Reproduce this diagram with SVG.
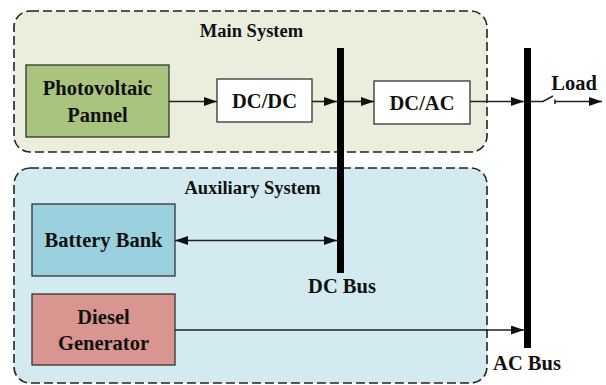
<svg xmlns="http://www.w3.org/2000/svg" width="606" height="385" viewBox="0 0 606 385">
<style>
.t{font-family:'Liberation Serif','DejaVu Serif',serif;font-weight:700;fill:#111;text-anchor:middle}
.n{font-size:20.5px}
.h{font-size:18.5px}
.box{stroke:#333;stroke-width:1.3}
.grp{stroke:#222;stroke-width:1.6;stroke-dasharray:9 4}
.ln{stroke:#222;stroke-width:1.6;fill:none}
.bar{fill:#000}
</style>
<defs>
<marker id="ah" markerUnits="userSpaceOnUse" markerWidth="14" markerHeight="10" refX="13" refY="4.5" orient="auto-start-reverse">
<path d="M0,0 L13,4.5 L0,9 z" fill="#111"/>
</marker>
</defs>
<g id="main-system">
<rect class="grp" x="14" y="11" width="473" height="141" rx="16" fill="#ebeedd"/>
<text class="t h" font-family="Liberation Serif, serif" x="251.5" y="37">Main System</text>
</g>
<g id="aux-system">
<rect class="grp" x="14" y="168" width="473" height="215" rx="16" fill="#d3ebf0"/>
<text class="t h" font-family="Liberation Serif, serif" x="252.5" y="194">Auxiliary System</text>
</g>
<g id="pv">
<rect class="box" x="26" y="65" width="143" height="72" fill="#a9c47f"/>
<text class="t n" font-family="Liberation Serif, serif" x="97.5" y="95">Photovoltaic</text>
<text class="t n" font-family="Liberation Serif, serif" x="97.5" y="122">Pannel</text>
</g>
<g id="dcdc">
<rect class="box" x="217" y="79" width="95" height="43" fill="#fff"/>
<text class="t n" font-family="Liberation Serif, serif" x="264.5" y="108">DC/DC</text>
</g>
<g id="dcac">
<rect class="box" x="374" y="81" width="96" height="43" fill="#fff"/>
<text class="t n" font-family="Liberation Serif, serif" x="422" y="110">DC/AC</text>
</g>
<g id="battery">
<rect class="box" x="32" y="204" width="143" height="72" fill="#9bd0de"/>
<text class="t n" font-family="Liberation Serif, serif" x="103.5" y="247">Battery Bank</text>
</g>
<g id="diesel">
<rect class="box" x="32" y="294" width="143" height="71" fill="#d9958f"/>
<text class="t n" font-family="Liberation Serif, serif" x="103.5" y="324">Diesel</text>
<text class="t n" font-family="Liberation Serif, serif" x="103.5" y="350">Generator</text>
</g>
<g id="dc-bus">
<rect class="bar" x="337" y="48" width="7" height="225"/>
<text class="t n" font-family="Liberation Serif, serif" x="342" y="292.5">DC Bus</text>
</g>
<g id="ac-bus">
<rect class="bar" x="524" y="48" width="7" height="300"/>
<text class="t n" font-family="Liberation Serif, serif" x="527" y="370">AC Bus</text>
</g>
<g id="load">
<text class="t n" font-family="Liberation Serif, serif" x="574" y="89.5">Load</text>
</g>
<g id="connectors">
<line class="ln" x1="169" y1="101.5" x2="217" y2="101.5" marker-end="url(#ah)"/>
<line class="ln" x1="312" y1="101.5" x2="337" y2="101.5" marker-end="url(#ah)"/>
<line class="ln" x1="344" y1="101.5" x2="374" y2="101.5" marker-end="url(#ah)"/>
<line class="ln" x1="470" y1="101.5" x2="524" y2="101.5" marker-end="url(#ah)"/>
<line class="ln" x1="175" y1="240.5" x2="337" y2="240.5" marker-start="url(#ah)" marker-end="url(#ah)"/>
<line class="ln" x1="175" y1="330" x2="524" y2="330" marker-end="url(#ah)"/>
<polyline class="ln" points="531,101.5 543,101.5 553,96"/>
<line class="ln" x1="555" y1="99.5" x2="555" y2="104"/>
<line class="ln" x1="555" y1="101.5" x2="602" y2="101.5" marker-end="url(#ah)"/>
</g>
</svg>
